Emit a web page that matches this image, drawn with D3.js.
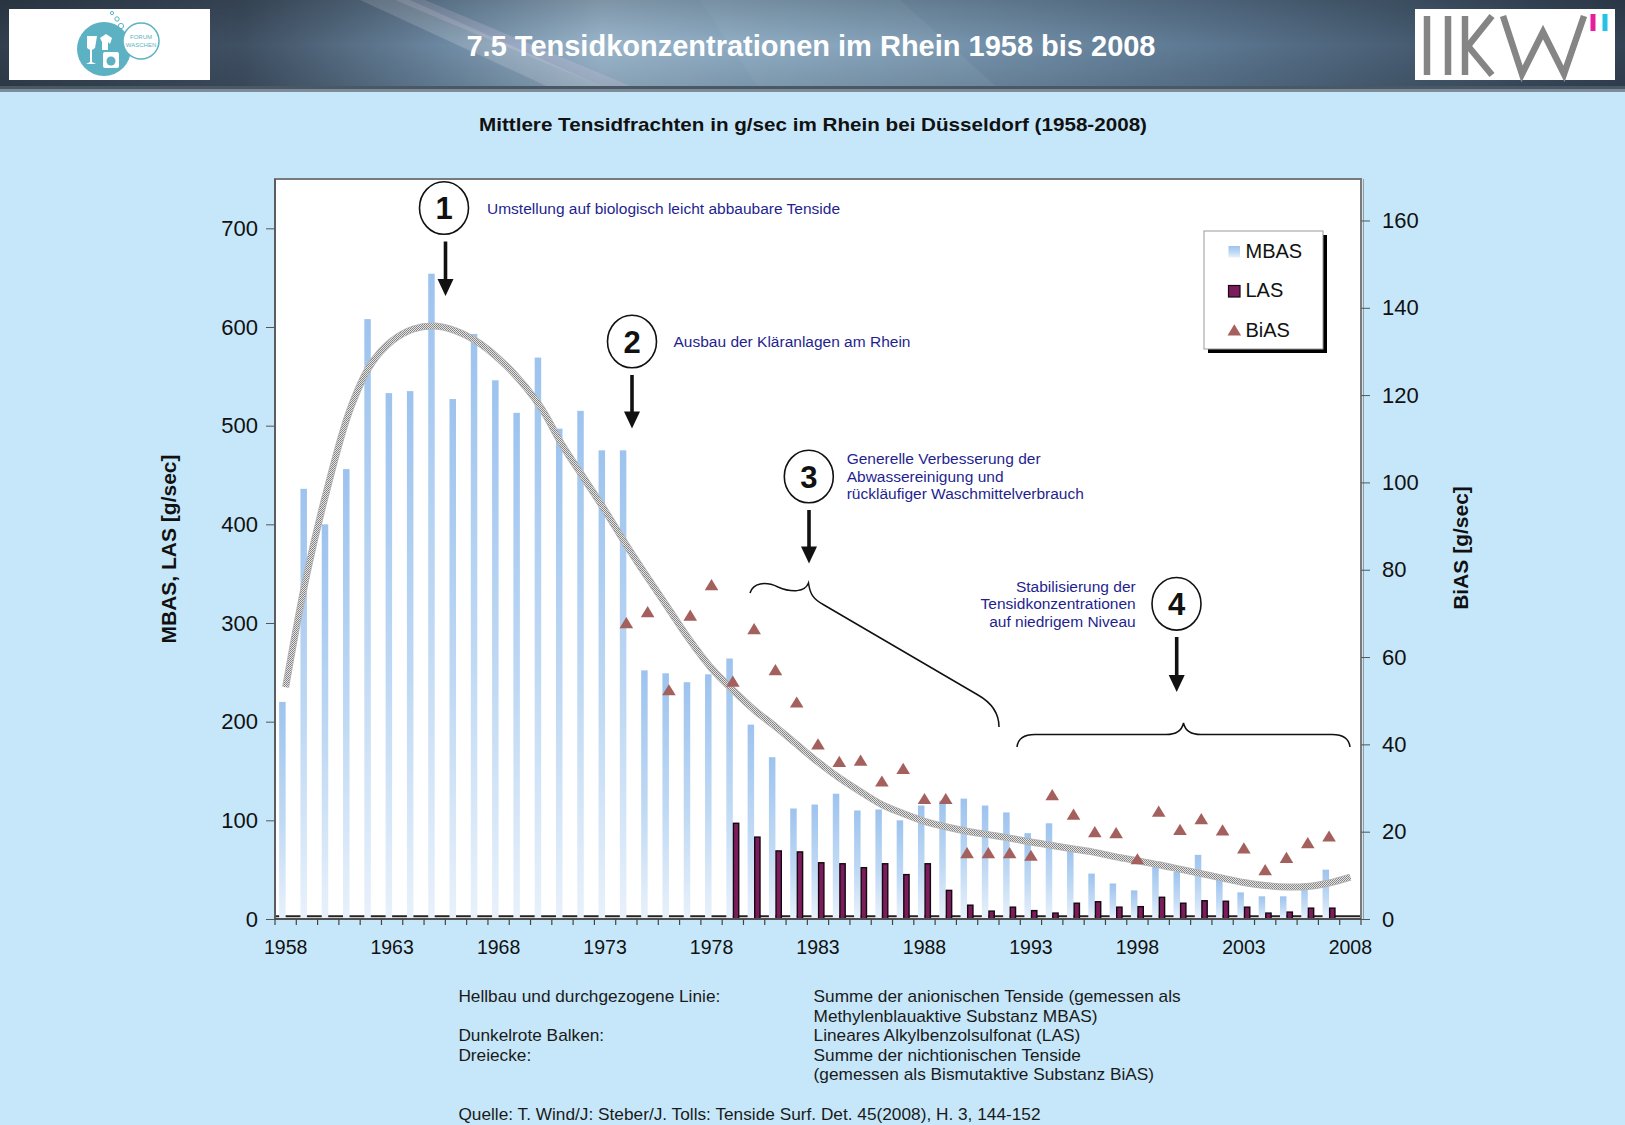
<!DOCTYPE html>
<html><head><meta charset="utf-8">
<script src="https://cdn.jsdelivr.net/npm/d3@7"></script>
<style>
html,body{margin:0;padding:0;background:#c6e7f9;}
svg{display:block;font-family:"Liberation Sans",Arial,Helvetica,sans-serif;}
</style></head><body>
<svg id="chart" width="1625" height="1125"></svg>
<script>
// ---------------- DATA ----------------
const years = [1958,1959,1960,1961,1962,1963,1964,1965,1966,1967,1968,1969,1970,1971,1972,1973,1974,1975,1976,1977,1978,1979,1980,1981,1982,1983,1984,1985,1986,1987,1988,1989,1990,1991,1992,1993,1994,1995,1996,1997,1998,1999,2000,2001,2002,2003,2004,2005,2006,2007,2008];
const mbas = [220,436,400,456,608,533,535,654,527,593,546,513,569,497,515,475,475,252,249,240,248,264,197,164,112,116,127,110,111,100,115,120,122,115,108,87,97,71,46,36,29,54,48,65,40,27,23,23,36,50,null];
const las = [null,null,null,null,null,null,null,null,null,null,null,null,null,null,null,null,null,null,null,null,null,97,83,69,68,57,56,52,56,45,56,29,14,8,12,8.5,6,16,17.5,12,12.5,22,16,18.5,18,12,6,7,11,11,null];
const bias = [null,null,null,null,null,null,null,null,null,null,null,null,null,null,null,null,67.7,70.2,52.3,69.4,76.4,54.3,66.3,56.9,49.5,39.9,35.9,36.2,31.4,34.3,27.4,27.4,15.0,15.0,15.0,14.4,28.3,23.8,19.8,19.6,13.6,24.5,20.3,22.8,20.2,16.1,11.1,13.9,17.3,18.8,null];
const trend = [235,350,440,515,562,586,598,601,596,585,568,546,518,480,447,414,379,346,314,282,254,232,212,195,177,159,143,129,116,107,99,93.5,89,85.5,82,78,74.5,71,67.5,63,59,55,50.5,46,41.5,37,34,32.5,33,36.5,42.5];
const xTickLabels = [1958,1963,1968,1973,1978,1983,1988,1993,1998,2003,2008];
const leftTicks = [0,100,200,300,400,500,600,700];
const rightTicks = [0,20,40,60,80,100,120,140,160];
const seriesNames = ["MBAS","LAS","BiAS"];

const titleText = "7.5 Tensidkonzentrationen im Rhein 1958 bis 2008";
const subtitleText = "Mittlere Tensidfrachten in g/sec im Rhein bei Düsseldorf (1958-2008)";
const leftAxisTitle = "MBAS, LAS [g/sec]";
const rightAxisTitle = "BiAS [g/sec]";

// ---------------- SETUP ----------------
const svg = d3.select("#chart");
const defs = svg.append("defs");
const P = {l:275, r:1361, t:179, b:919};

const x = d3.scaleBand().domain(years).range([P.l, P.r]).padding(0);
const xs = d3.scaleBand().domain(["MBAS","LAS"]).range([-6.5, 6.5]);
const yL = d3.scaleLinear().domain([0, 750]).range([P.b, P.t]);
const yR = d3.scaleLinear().domain([0, 169.5]).range([P.b, P.t]);
const cx = y => x(y) + x.bandwidth()/2;

// gradients / patterns
const g1 = defs.append("linearGradient").attr("id","mbasGrad").attr("x1",0).attr("y1",0).attr("x2",0).attr("y2",1);
g1.append("stop").attr("offset","0%").attr("stop-color","#9dc3ee");
g1.append("stop").attr("offset","55%").attr("stop-color","#bfd9f4");
g1.append("stop").attr("offset","100%").attr("stop-color","#e8f1fb");

const hg = defs.append("linearGradient").attr("id","hdr").attr("x1",0).attr("y1",0).attr("x2",1).attr("y2",0);
[[0,"#323f4e"],[0.15,"#3f5063"],[0.27,"#6b87a0"],[0.37,"#9ab5cb"],[0.47,"#88a7bf"],[0.6,"#7492ab"],[0.75,"#5b7690"],[0.88,"#455a6f"],[1,"#334254"]]
  .forEach(([o,c]) => hg.append("stop").attr("offset",o).attr("stop-color",c));
const hv = defs.append("linearGradient").attr("id","hdrv").attr("x1",0).attr("y1",0).attr("x2",0).attr("y2",1);
hv.append("stop").attr("offset","0%").attr("stop-color","#000").attr("stop-opacity",0.18);
hv.append("stop").attr("offset","50%").attr("stop-color","#000").attr("stop-opacity",0);
hv.append("stop").attr("offset","100%").attr("stop-color","#000").attr("stop-opacity",0.12);

const pat = defs.append("pattern").attr("id","dots").attr("width",2).attr("height",2).attr("patternUnits","userSpaceOnUse");
pat.append("rect").attr("width",2).attr("height",2).attr("fill","#e4e4e4");
pat.append("rect").attr("width",1).attr("height",1).attr("fill","#808080");
pat.append("rect").attr("x",1).attr("y",1).attr("width",1).attr("height",1).attr("fill","#8c8c8c");

// ---------------- HEADER ----------------
svg.append("rect").attr("x",0).attr("y",0).attr("width",1625).attr("height",90).attr("fill","url(#hdr)");
svg.append("polygon").attr("points","360,0 410,0 610,90 555,90").attr("fill","#ffffff").attr("opacity",0.18);
svg.append("polygon").attr("points","395,0 425,0 640,90 610,90").attr("fill","#e8d8f0").attr("opacity",0.22);
svg.append("polygon").attr("points","700,0 900,0 1000,90 760,90").attr("fill","#b5cde0").attr("opacity",0.12);
svg.append("rect").attr("x",0).attr("y",0).attr("width",1625).attr("height",90).attr("fill","url(#hdrv)");
svg.append("rect").attr("x",0).attr("y",86).attr("width",1625).attr("height",3).attr("fill","#4a5866");
svg.append("rect").attr("x",0).attr("y",89).attr("width",1625).attr("height",3).attr("fill","#7d8c99");

svg.append("text").attr("x",811).attr("y",56).attr("text-anchor","middle")
  .attr("font-size",30).attr("font-weight","bold").attr("fill","#ffffff")
  .attr("textLength",689).attr("lengthAdjust","spacingAndGlyphs").text(titleText);

// left logo
const lg = svg.append("g");
lg.append("rect").attr("x",9).attr("y",9).attr("width",201).attr("height",71).attr("fill","#fff");
lg.append("circle").attr("cx",104).attr("cy",49).attr("r",27).attr("fill","#5cb2c2");
lg.append("circle").attr("cx",141).attr("cy",41).attr("r",18).attr("fill","#fff").attr("stroke","#5cb2c2").attr("stroke-width",1.5);
lg.append("circle").attr("cx",112).attr("cy",13).attr("r",1.6).attr("fill","none").attr("stroke","#5cb2c2");
lg.append("circle").attr("cx",117).attr("cy",19).attr("r",2.2).attr("fill","none").attr("stroke","#5cb2c2");
lg.append("circle").attr("cx",121).attr("cy",26).attr("r",2.6).attr("fill","none").attr("stroke","#5cb2c2");
lg.append("rect").attr("x",103).attr("y",52).attr("width",16).attr("height",16).attr("rx",2).attr("fill","#fff");
lg.append("circle").attr("cx",111).attr("cy",61).attr("r",4.5).attr("fill","#5cb2c2");
lg.append("path").attr("d","M87,36 L97,36 L95,48 L92,50 L92,62 L96,64 L86,64 L90,62 L90,50 L87,48 Z").attr("fill","#fff");
lg.append("path").attr("d","M100,38 L106,34 L112,38 L110,44 L108,42 L108,50 L102,50 L102,42 Z").attr("fill","#fff");
lg.append("text").attr("x",141).attr("y",39).attr("text-anchor","middle").attr("font-size",6).attr("fill","#5cb2c2").text("FORUM");
lg.append("text").attr("x",141).attr("y",47).attr("text-anchor","middle").attr("font-size",6).attr("fill","#5cb2c2").text("WASCHEN");

// right logo (IKW)
const rg = svg.append("g");
rg.append("rect").attr("x",1415).attr("y",9).attr("width",200).attr("height",71).attr("fill","#fff");
const ikw = rg.append("g").attr("fill","none").attr("stroke","#858585").attr("stroke-width",6.5).attr("stroke-linejoin","miter");
ikw.append("path").attr("d","M1427,16 L1427,75");
ikw.append("path").attr("d","M1448,16 L1448,75");
ikw.append("path").attr("d","M1465,16 L1465,75");
ikw.append("path").attr("d","M1492,16 L1468,46 L1492,75");
ikw.append("path").attr("d","M1503,16 L1522,74 L1543,32 L1564,74 L1584,16");
rg.append("path").attr("d","M1593,14 L1593,31").attr("stroke","#e61e9b").attr("stroke-width",5);
rg.append("path").attr("d","M1605,14 L1605,31").attr("stroke","#22c3e6").attr("stroke-width",5);

// ---------------- SUBTITLE ----------------
svg.append("text").attr("x",813).attr("y",131).attr("text-anchor","middle")
  .attr("font-size",19).attr("font-weight","bold").attr("fill","#111")
  .attr("textLength",668).attr("lengthAdjust","spacingAndGlyphs").text(subtitleText);

// ---------------- PLOT ----------------
svg.append("rect").attr("x",P.l).attr("y",P.t).attr("width",P.r-P.l).attr("height",P.b-P.t).attr("fill","#fff");

// baseline line behind bars
svg.append("line").attr("x1",P.l).attr("x2",P.r).attr("y1",yL(2.8)).attr("y2",yL(2.8))
  .attr("stroke","#222").attr("stroke-width",1.8);

// MBAS bars
svg.append("g").selectAll("rect").data(years.map((y,i)=>({y, v:mbas[i]})).filter(d=>d.v!=null))
  .join("rect")
  .attr("x", d => cx(d.y) + xs("MBAS"))
  .attr("width", xs.bandwidth())
  .attr("y", d => yL(d.v))
  .attr("height", d => yL(0) - yL(d.v))
  .attr("fill","url(#mbasGrad)");

// LAS bars
svg.append("g").selectAll("rect").data(years.map((y,i)=>({y, v:las[i]})).filter(d=>d.v!=null))
  .join("rect")
  .attr("x", d => cx(d.y) + xs("LAS") + 0.6)
  .attr("width", xs.bandwidth() - 1.2)
  .attr("y", d => yL(d.v))
  .attr("height", d => yL(0) - yL(d.v))
  .attr("fill","#7b1c5c").attr("stroke","#160810").attr("stroke-width",1.4);

// trend line (dotted grey band)
const tdata = years.map((y,i)=>({y, v:trend[i]}));
const line = d3.line().x(d => cx(d.y)).y(d => yL(d.v)).curve(d3.curveCatmullRom.alpha(0.5));
svg.append("path").attr("d", line(tdata)).attr("fill","none").attr("stroke","#b4b4b4").attr("stroke-width",7);
svg.append("path").attr("d", line(tdata)).attr("fill","none").attr("stroke","url(#dots)").attr("stroke-width",5.2);

// BiAS triangles
const tri = (px,py) => `M${px},${py-6.5} L${px+6.8},${py+4.7} L${px-6.8},${py+4.7} Z`;
svg.append("g").selectAll("path").data(years.map((y,i)=>({y, v:bias[i]})).filter(d=>d.v!=null))
  .join("path")
  .attr("d", d => tri(cx(d.y), yR(d.v)))
  .attr("fill","#a4605d");

// plot border
svg.append("rect").attr("x",P.l).attr("y",P.t).attr("width",P.r-P.l).attr("height",P.b-P.t)
  .attr("fill","none").attr("stroke","#7a7a7a").attr("stroke-width",2);
svg.append("line").attr("x1",P.r+2.5).attr("x2",P.r+2.5).attr("y1",P.t).attr("y2",P.b).attr("stroke","#9a9a9a").attr("stroke-width",1);
svg.append("line").attr("x1",P.l).attr("x2",P.r).attr("y1",P.b).attr("y2",P.b).attr("stroke","#444").attr("stroke-width",1.6);
svg.append("line").attr("x1",P.l).attr("x2",P.l).attr("y1",P.t).attr("y2",P.b).attr("stroke","#555").attr("stroke-width",1.6);

// bottom axis ticks at band boundaries
const bounds = years.map(y => x(y)).concat([x.range()[1]]);
svg.append("g").selectAll("line").data(bounds).join("line")
  .attr("x1",d=>d).attr("x2",d=>d).attr("y1",P.b).attr("y2",P.b+6).attr("stroke","#444").attr("stroke-width",1.2);
const xAxis = svg.append("g").attr("transform",`translate(0,${P.b})`)
  .call(d3.axisBottom(x).tickValues(xTickLabels).tickSize(0).tickPadding(21));
xAxis.select(".domain").remove();
xAxis.selectAll("text").attr("font-size",19.5).attr("fill","#111").attr("font-family",null);

// left axis
const lAxis = svg.append("g").attr("transform",`translate(${P.l},0)`)
  .call(d3.axisLeft(yL).tickValues(leftTicks).tickSize(9).tickPadding(8));
lAxis.select(".domain").remove();
lAxis.selectAll("line").attr("stroke","#555");
lAxis.selectAll("text").attr("font-size",22).attr("fill","#111").attr("font-family",null);

// right axis
const rAxis = svg.append("g").attr("transform",`translate(${P.r},0)`)
  .call(d3.axisRight(yR).tickValues(rightTicks).tickSize(9).tickPadding(12));
rAxis.select(".domain").remove();
rAxis.selectAll("line").attr("stroke","#555");
rAxis.selectAll("text").attr("font-size",22).attr("fill","#111").attr("font-family",null);

// axis titles
svg.append("text").attr("transform","translate(176,549) rotate(-90)").attr("text-anchor","middle")
  .attr("font-size",21).attr("font-weight","bold").attr("fill","#111").text(leftAxisTitle);
svg.append("text").attr("transform","translate(1468,548) rotate(-90)").attr("text-anchor","middle")
  .attr("font-size",21).attr("font-weight","bold").attr("fill","#111").text(rightAxisTitle);

// ---------------- LEGEND ----------------
const L = {x:1204, y:231, w:119, h:118};
svg.append("rect").attr("x",L.x+4).attr("y",L.y+4).attr("width",L.w).attr("height",L.h).attr("fill","#000");
svg.append("rect").attr("x",L.x).attr("y",L.y).attr("width",L.w).attr("height",L.h).attr("fill","#fff").attr("stroke","#999").attr("stroke-width",1);
svg.append("rect").attr("x",1228.5).attr("y",246).attr("width",11.5).attr("height",11.5).attr("fill","url(#mbasGrad)");
svg.append("rect").attr("x",1228.5).attr("y",285.5).attr("width",11.5).attr("height",11.5).attr("fill","#7b1c5c").attr("stroke","#160810").attr("stroke-width",1.2);
svg.append("path").attr("d",tri(1234.3,330.8)).attr("fill","#a4605d");
[[seriesNames[0],257.5],[seriesNames[1],297],[seriesNames[2],336.5]].forEach(([t,yy]) =>
  svg.append("text").attr("x",1245.5).attr("y",yy).attr("font-size",20).attr("fill","#111").text(t));

// ---------------- ANNOTATIONS ----------------
const ann = svg.append("g");
const circ = [[444,208,"1"],[632,341.5,"2"],[808.8,476.5,"3"],[1176.5,603.8,"4"]];
circ.forEach(([ax,ay,t]) => {
  ann.append("ellipse").attr("cx",ax).attr("cy",ay).attr("rx",24.5).attr("ry",26.3).attr("fill","#fff").attr("stroke","#111").attr("stroke-width",1.6);
  ann.append("text").attr("x",ax).attr("y",ay+11).attr("text-anchor","middle").attr("font-size",31).attr("font-weight","bold").attr("fill","#111").text(t);
});
const arrows = [[445.5,241.5,296],[632,375,428.5],[809,510,563.5],[1176.7,637,692]];
arrows.forEach(([ax,y1,y2]) => {
  ann.append("line").attr("x1",ax).attr("x2",ax).attr("y1",y1).attr("y2",y2-14).attr("stroke","#111").attr("stroke-width",3.6);
  ann.append("path").attr("d",`M${ax-8},${y2-17} L${ax+8},${y2-17} L${ax},${y2} Z`).attr("fill","#111");
});
const annColor = "#1f1f8f";
const annTexts = [
  {x:487, y:213.5, a:"start", t:"Umstellung auf biologisch leicht abbaubare Tenside"},
  {x:673.5, y:347, a:"start", t:"Ausbau der Kläranlagen am Rhein"},
  {x:846.7, y:464, a:"start", t:"Generelle Verbesserung der"},
  {x:846.7, y:481.7, a:"start", t:"Abwassereinigung und"},
  {x:846.7, y:499.3, a:"start", t:"rückläufiger Waschmittelverbrauch"},
  {x:1135.7, y:591.7, a:"end", t:"Stabilisierung der"},
  {x:1135.7, y:609.3, a:"end", t:"Tensidkonzentrationen"},
  {x:1135.7, y:627, a:"end", t:"auf niedrigem Niveau"}
];
annTexts.forEach(d => ann.append("text").attr("x",d.x).attr("y",d.y).attr("text-anchor",d.a)
  .attr("font-size",15.5).attr("fill",annColor).text(d.t));

// braces
ann.append("path").attr("d","M750,593 C753,583 765,581 778,587 C792,593 805,592 808.5,583 C810,594 813,599 824,605 L978,695 C992,703 999,713 999,727")
  .attr("fill","none").attr("stroke","#111").attr("stroke-width",1.5);
ann.append("path").attr("d","M1017,747 C1018,738 1024,734.5 1035,734.5 L1166,734.5 C1176,734.5 1182,730 1183.5,723 C1185,730 1191,734.5 1201,734.5 L1332,734.5 C1343,734.5 1349,738 1350,747")
  .attr("fill","none").attr("stroke","#111").attr("stroke-width",1.5);

// ---------------- FOOTNOTE ----------------
const foot = svg.append("g").attr("font-size",17).attr("fill","#1a1a1a");
const footLines = [
  {x:458.4, y:1002, t:"Hellbau und durchgezogene Linie:"},
  {x:458.4, y:1040.5, t:"Dunkelrote Balken:"},
  {x:458.4, y:1060.5, t:"Dreiecke:"},
  {x:813.6, y:1002, t:"Summe der anionischen Tenside (gemessen als"},
  {x:813.6, y:1021.5, t:"Methylenblauaktive Substanz MBAS)"},
  {x:813.6, y:1040.5, t:"Lineares Alkylbenzolsulfonat (LAS)"},
  {x:813.6, y:1060.5, t:"Summe der nichtionischen Tenside"},
  {x:813.6, y:1080, t:"(gemessen als Bismutaktive Substanz BiAS)"},
  {x:458.4, y:1120, t:"Quelle: T. Wind/J: Steber/J. Tolls: Tenside Surf. Det. 45(2008), H. 3, 144-152"}
];
const ft = foot.selectAll("text").data(footLines).join("text").attr("x",d=>d.x).attr("y",d=>d.y).text(d=>d.t);
// condense to match the reference's narrow type
const refNode = ft.filter((d,i)=>i===3).node();
const k = 367 / refNode.getComputedTextLength();
ft.each(function(){ const L0 = this.getComputedTextLength(); d3.select(this).attr("textLength", L0*k).attr("lengthAdjust","spacingAndGlyphs"); });
</script></body></html>
